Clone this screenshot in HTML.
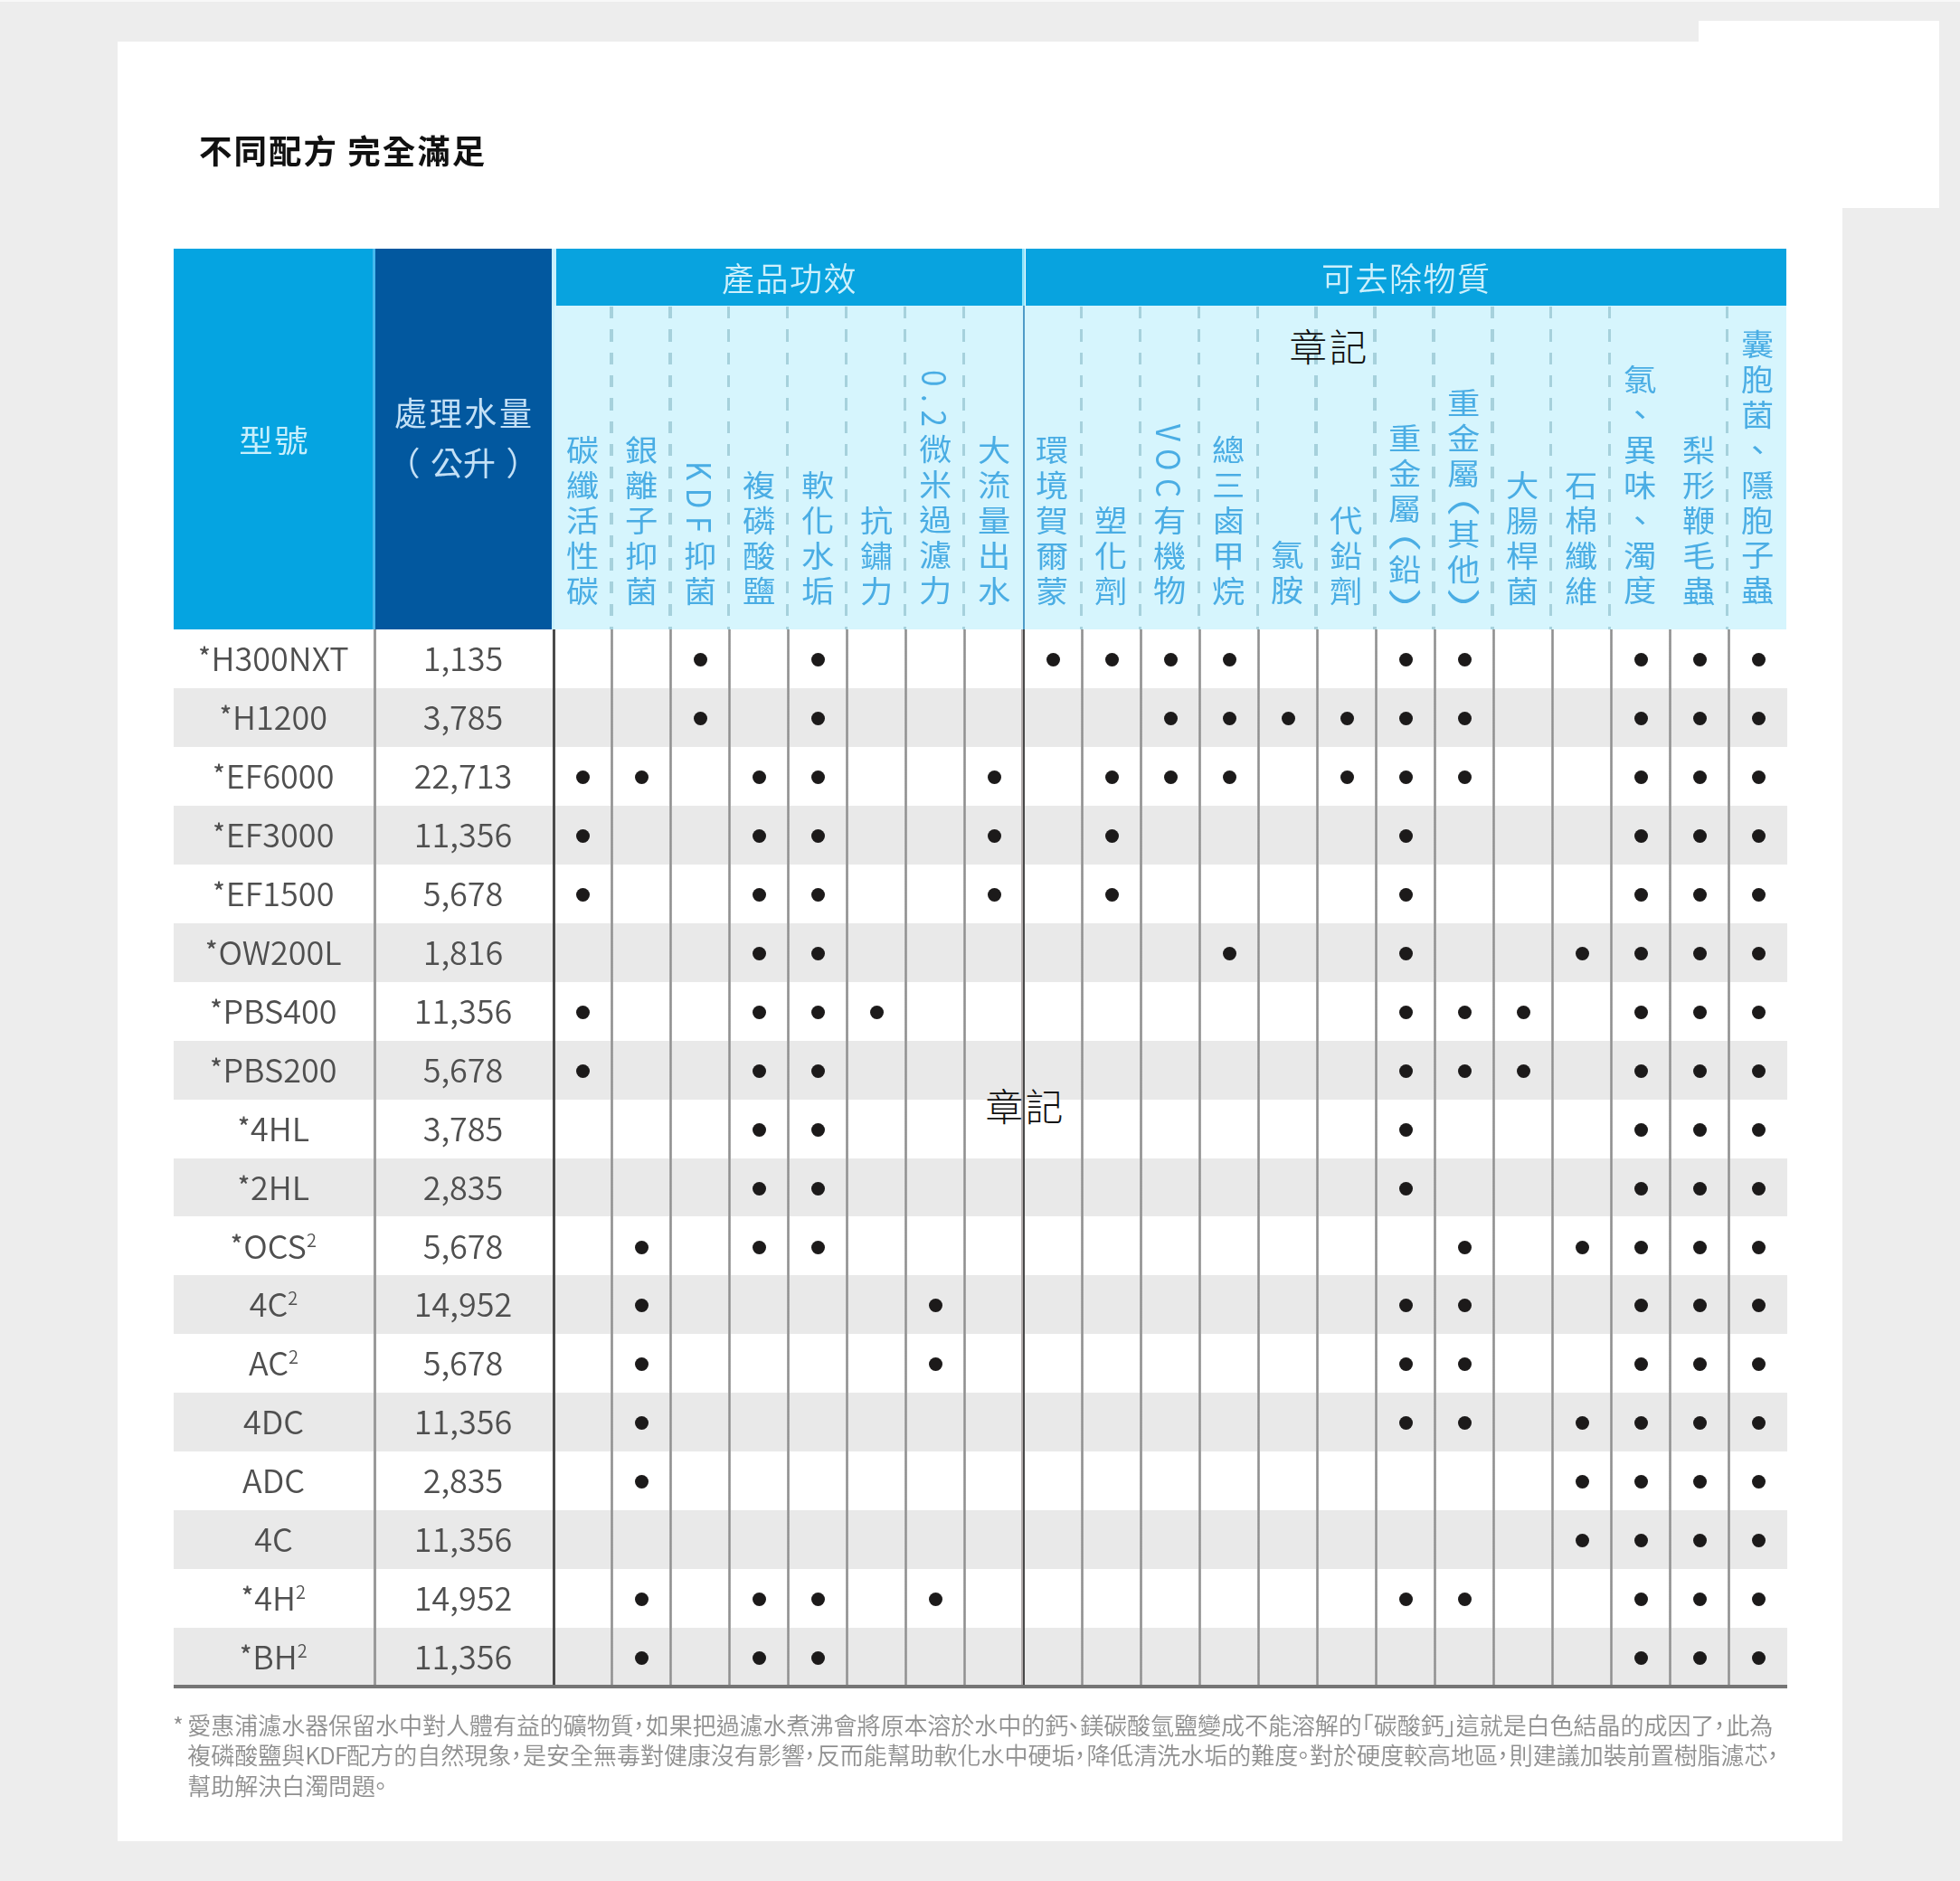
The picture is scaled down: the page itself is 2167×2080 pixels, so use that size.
<!DOCTYPE html><html lang="zh-Hant"><head><meta charset="utf-8"><title>不同配方 完全滿足</title><style>
*{margin:0;padding:0;box-sizing:border-box}
html,body{width:2167px;height:2080px;overflow:hidden}
body{background:#ededed;font-family:"Liberation Sans","Noto Sans CJK TC",sans-serif;position:relative}
.abs,.abs>*{position:absolute}
#topstrip{position:absolute;left:0;top:0;width:2167px;height:2px;background:#f8f8f8}
#soft{position:absolute;left:0;top:0;width:2167px;height:2080px;filter:blur(0.7px)}
#card{position:absolute;left:130px;top:46px;width:1907.3px;height:1990px;background:#fff}
#corner{position:absolute;left:1878px;top:23px;width:266px;height:207px;background:#fff}
#title{position:absolute;left:220px;top:138px;font:700 36.5px/56px "Noto Sans CJK TC","Liberation Sans",sans-serif;color:#111;white-space:nowrap;letter-spacing:2px}
.cjk{font-family:"Noto Sans CJK TC","Liberation Sans",sans-serif}
#h1{position:absolute;left:192px;top:275px;width:221px;height:421px;background:#05a4e1}
#h2{position:absolute;left:415px;top:275px;width:195px;height:421px;background:#02589f}
#hs1{position:absolute;left:411.5px;top:275px;width:3.5px;height:421px;background:#45b9ee}
#hs2{position:absolute;left:610px;top:275px;width:5px;height:421px;background:#c9f0fc}
#hl{position:absolute;left:613px;top:338px;width:1362.3px;height:358px;background:#d6f5fd}
.band{position:absolute;top:275px;height:63px;background:#08a3df;color:#cdf0fc;font:350 36px/63px "Noto Sans CJK TC",sans-serif;text-align:center;letter-spacing:1.5px}
.ht{position:absolute;color:#c6effc;font:400 36px/55px "Noto Sans CJK TC",sans-serif;text-align:center;white-space:nowrap}
.ht .p1{margin-right:11.5px}.ht .p2{margin-left:11.5px}
.vh{position:absolute;bottom:0;writing-mode:vertical-rl;text-orientation:mixed;font:400 33px/65px "Noto Sans CJK TC",sans-serif;color:#4aade4;letter-spacing:5.9px;transform:scaleX(1.1);white-space:nowrap;width:65px;text-align:right}
.vh .lat{letter-spacing:8.5px}
.vh .pa{display:inline-block;margin-top:-0.32em;transform:scaleY(1.6);transform-origin:50% 69%}
.vh .pb{display:inline-block;margin-bottom:calc(-0.5em - 3px);margin-top:0.12em;transform:scaleY(1.7);transform-origin:50% 23%}
.dash{position:absolute;top:339px;width:3.4px;height:357px;background:repeating-linear-gradient(to bottom,#a6d1dc 0,#a6d1dc 13.3px,transparent 13.3px,transparent 25.3px)}
.row{position:absolute;left:192px;width:1783.8px}
.row.g{background:#e9e9e9}
.m,.n{position:absolute;top:-2px;height:100%;text-align:center;font:350 36px/65px "Noto Sans CJK TC",sans-serif;color:#4f4f4f;white-space:nowrap}
.m{left:0;width:221px}
.n{left:221px;width:198px}
.m sup{font-size:20px;line-height:0;vertical-align:13px}
.m .as{font-size:27px;font-weight:500;vertical-align:6px;line-height:0;margin-right:1px}
.d{position:absolute;width:15px;height:15px;border-radius:50%;background:#1c1a1a}
.vl{position:absolute;top:696.3px;width:3px;background:linear-gradient(to right,#bcbcbc,#909090 34%,#909090 66%,#bcbcbc)}
.foot{position:absolute;font:350 26px/38px "Noto Sans CJK TC",sans-serif;color:#8f8f8f;white-space:nowrap;letter-spacing:-0.03px}
.foot .pc{margin:0 -5.5px 0 -7.5px}.foot .la{letter-spacing:-0.8px}.foot .pl{margin-left:-13px}.foot .pr{margin-right:-13px}
.stamp{position:absolute;letter-spacing:2.6px;font:300 41.6px/48px "Noto Sans CJK TC",sans-serif;color:#111;white-space:nowrap}
</style></head><body>
<div id="topstrip"></div><div id="soft"><div id="card"></div><div id="corner"></div>
<div id="title">不同配方 完全滿足</div>
<div id="h1"></div><div id="hs1"></div><div id="h2"></div><div id="hs2"></div><div id="hl"></div>
<div class="band" style="left:615px;width:516px">產品功效</div>
<div class="band" style="left:1134px;width:841.3px">可去除物質</div>
<div style="position:absolute;left:1130px;top:275px;width:3px;height:63px;background:#8fe3fa"></div>
<div style="position:absolute;left:1130.6px;top:338px;width:2px;height:358px;background:#4f9bc8"></div>
<div class="ht" style="left:192px;width:221px;top:457.8px;font-size:34px;letter-spacing:1.5px;text-indent:1.5px;transform:scaleX(1.1)">型號</div>
<div class="ht" style="left:415px;width:194px;top:427.5px;color:#c3e0f6"><span style="letter-spacing:2.7px;margin-left:2.7px">處理水量</span><br><span class="p1">（</span>公升<span class="p2">）</span></div>
<div class="vh" style="left:611.0px;top:338px;height:337.3px">碳纖活性碳</div>
<div class="vh" style="left:675.9px;top:338px;height:337.3px">銀離子抑菌</div>
<div class="vh" style="left:740.9px;top:338px;height:337.3px"><span class="lat">KDF</span>抑菌</div>
<div class="vh" style="left:805.8px;top:338px;height:337.3px">複磷酸鹽</div>
<div class="vh" style="left:870.7px;top:338px;height:337.3px">軟化水垢</div>
<div class="vh" style="left:935.7px;top:338px;height:337.3px">抗鏽力</div>
<div class="vh" style="left:1000.6px;top:338px;height:337.3px"><span class="lat">0.2</span>微米過濾力</div>
<div class="vh" style="left:1065.5px;top:338px;height:337.3px">大流量出水</div>
<div class="vh" style="left:1130.4px;top:338px;height:337.3px">環境賀爾蒙</div>
<div class="vh" style="left:1195.4px;top:338px;height:337.3px">塑化劑</div>
<div class="vh" style="left:1260.3px;top:338px;height:337.3px"><span class="lat">VOC</span>有機物</div>
<div class="vh" style="left:1325.2px;top:338px;height:337.3px">總三鹵甲烷</div>
<div class="vh" style="left:1390.2px;top:338px;height:337.3px">氯胺</div>
<div class="vh" style="left:1455.1px;top:338px;height:337.3px">代鉛劑</div>
<div class="vh" style="left:1520.0px;top:338px;height:337.3px">重金屬<span class="pa">（</span>鉛<span class="pb">）</span></div>
<div class="vh" style="left:1585.0px;top:338px;height:337.3px">重金屬<span class="pa">（</span>其他<span class="pb">）</span></div>
<div class="vh" style="left:1649.9px;top:338px;height:337.3px">大腸桿菌</div>
<div class="vh" style="left:1714.8px;top:338px;height:337.3px">石棉纖維</div>
<div class="vh" style="left:1779.7px;top:338px;height:337.3px">氯、異味、濁度</div>
<div class="vh" style="left:1844.7px;top:338px;height:337.3px">梨形鞭毛蟲</div>
<div class="vh" style="left:1909.6px;top:338px;height:337.3px">囊胞菌、隱胞子蟲</div>
<div class="dash" style="left:674.2px"></div>
<div class="dash" style="left:739.2px"></div>
<div class="dash" style="left:804.1px"></div>
<div class="dash" style="left:869.0px"></div>
<div class="dash" style="left:934.0px"></div>
<div class="dash" style="left:998.9px"></div>
<div class="dash" style="left:1063.8px"></div>
<div class="dash" style="left:1193.7px"></div>
<div class="dash" style="left:1258.6px"></div>
<div class="dash" style="left:1323.5px"></div>
<div class="dash" style="left:1388.5px"></div>
<div class="dash" style="left:1453.4px"></div>
<div class="dash" style="left:1518.3px"></div>
<div class="dash" style="left:1583.2px"></div>
<div class="dash" style="left:1648.2px"></div>
<div class="dash" style="left:1713.1px"></div>
<div class="dash" style="left:1778.0px"></div>
<div class="dash" style="left:1907.9px"></div>
<div class="row" style="top:696.30px;height:64.92px"><div class="m"><span class="as">*</span>H300NXT</div><div class="n">1,135</div>
<i class="d" style="left:575.0px;top:26.0px"></i>
<i class="d" style="left:705.0px;top:26.0px"></i>
<i class="d" style="left:965.0px;top:26.0px"></i>
<i class="d" style="left:1030.0px;top:26.0px"></i>
<i class="d" style="left:1095.0px;top:26.0px"></i>
<i class="d" style="left:1160.0px;top:26.0px"></i>
<i class="d" style="left:1355.0px;top:26.0px"></i>
<i class="d" style="left:1420.0px;top:26.0px"></i>
<i class="d" style="left:1615.0px;top:26.0px"></i>
<i class="d" style="left:1680.0px;top:26.0px"></i>
<i class="d" style="left:1745.0px;top:26.0px"></i>
</div>
<div class="row g" style="top:761.22px;height:64.92px"><div class="m"><span class="as">*</span>H1200</div><div class="n">3,785</div>
<i class="d" style="left:575.0px;top:26.0px"></i>
<i class="d" style="left:705.0px;top:26.0px"></i>
<i class="d" style="left:1095.0px;top:26.0px"></i>
<i class="d" style="left:1160.0px;top:26.0px"></i>
<i class="d" style="left:1225.0px;top:26.0px"></i>
<i class="d" style="left:1290.0px;top:26.0px"></i>
<i class="d" style="left:1355.0px;top:26.0px"></i>
<i class="d" style="left:1420.0px;top:26.0px"></i>
<i class="d" style="left:1615.0px;top:26.0px"></i>
<i class="d" style="left:1680.0px;top:26.0px"></i>
<i class="d" style="left:1745.0px;top:26.0px"></i>
</div>
<div class="row" style="top:826.14px;height:64.92px"><div class="m"><span class="as">*</span>EF6000</div><div class="n">22,713</div>
<i class="d" style="left:445.0px;top:26.0px"></i>
<i class="d" style="left:510.0px;top:26.0px"></i>
<i class="d" style="left:640.0px;top:26.0px"></i>
<i class="d" style="left:705.0px;top:26.0px"></i>
<i class="d" style="left:900.0px;top:26.0px"></i>
<i class="d" style="left:1030.0px;top:26.0px"></i>
<i class="d" style="left:1095.0px;top:26.0px"></i>
<i class="d" style="left:1160.0px;top:26.0px"></i>
<i class="d" style="left:1290.0px;top:26.0px"></i>
<i class="d" style="left:1355.0px;top:26.0px"></i>
<i class="d" style="left:1420.0px;top:26.0px"></i>
<i class="d" style="left:1615.0px;top:26.0px"></i>
<i class="d" style="left:1680.0px;top:26.0px"></i>
<i class="d" style="left:1745.0px;top:26.0px"></i>
</div>
<div class="row g" style="top:891.06px;height:64.92px"><div class="m"><span class="as">*</span>EF3000</div><div class="n">11,356</div>
<i class="d" style="left:445.0px;top:26.0px"></i>
<i class="d" style="left:640.0px;top:26.0px"></i>
<i class="d" style="left:705.0px;top:26.0px"></i>
<i class="d" style="left:900.0px;top:26.0px"></i>
<i class="d" style="left:1030.0px;top:26.0px"></i>
<i class="d" style="left:1355.0px;top:26.0px"></i>
<i class="d" style="left:1615.0px;top:26.0px"></i>
<i class="d" style="left:1680.0px;top:26.0px"></i>
<i class="d" style="left:1745.0px;top:26.0px"></i>
</div>
<div class="row" style="top:955.98px;height:64.92px"><div class="m"><span class="as">*</span>EF1500</div><div class="n">5,678</div>
<i class="d" style="left:445.0px;top:26.0px"></i>
<i class="d" style="left:640.0px;top:26.0px"></i>
<i class="d" style="left:705.0px;top:26.0px"></i>
<i class="d" style="left:900.0px;top:26.0px"></i>
<i class="d" style="left:1030.0px;top:26.0px"></i>
<i class="d" style="left:1355.0px;top:26.0px"></i>
<i class="d" style="left:1615.0px;top:26.0px"></i>
<i class="d" style="left:1680.0px;top:26.0px"></i>
<i class="d" style="left:1745.0px;top:26.0px"></i>
</div>
<div class="row g" style="top:1020.90px;height:64.92px"><div class="m"><span class="as">*</span>OW200L</div><div class="n">1,816</div>
<i class="d" style="left:640.0px;top:26.0px"></i>
<i class="d" style="left:705.0px;top:26.0px"></i>
<i class="d" style="left:1160.0px;top:26.0px"></i>
<i class="d" style="left:1355.0px;top:26.0px"></i>
<i class="d" style="left:1550.0px;top:26.0px"></i>
<i class="d" style="left:1615.0px;top:26.0px"></i>
<i class="d" style="left:1680.0px;top:26.0px"></i>
<i class="d" style="left:1745.0px;top:26.0px"></i>
</div>
<div class="row" style="top:1085.82px;height:64.92px"><div class="m"><span class="as">*</span>PBS400</div><div class="n">11,356</div>
<i class="d" style="left:445.0px;top:26.0px"></i>
<i class="d" style="left:640.0px;top:26.0px"></i>
<i class="d" style="left:705.0px;top:26.0px"></i>
<i class="d" style="left:770.0px;top:26.0px"></i>
<i class="d" style="left:1355.0px;top:26.0px"></i>
<i class="d" style="left:1420.0px;top:26.0px"></i>
<i class="d" style="left:1485.0px;top:26.0px"></i>
<i class="d" style="left:1615.0px;top:26.0px"></i>
<i class="d" style="left:1680.0px;top:26.0px"></i>
<i class="d" style="left:1745.0px;top:26.0px"></i>
</div>
<div class="row g" style="top:1150.74px;height:64.92px"><div class="m"><span class="as">*</span>PBS200</div><div class="n">5,678</div>
<i class="d" style="left:445.0px;top:26.0px"></i>
<i class="d" style="left:640.0px;top:26.0px"></i>
<i class="d" style="left:705.0px;top:26.0px"></i>
<i class="d" style="left:1355.0px;top:26.0px"></i>
<i class="d" style="left:1420.0px;top:26.0px"></i>
<i class="d" style="left:1485.0px;top:26.0px"></i>
<i class="d" style="left:1615.0px;top:26.0px"></i>
<i class="d" style="left:1680.0px;top:26.0px"></i>
<i class="d" style="left:1745.0px;top:26.0px"></i>
</div>
<div class="row" style="top:1215.66px;height:64.92px"><div class="m"><span class="as">*</span>4HL</div><div class="n">3,785</div>
<i class="d" style="left:640.0px;top:26.0px"></i>
<i class="d" style="left:705.0px;top:26.0px"></i>
<i class="d" style="left:1355.0px;top:26.0px"></i>
<i class="d" style="left:1615.0px;top:26.0px"></i>
<i class="d" style="left:1680.0px;top:26.0px"></i>
<i class="d" style="left:1745.0px;top:26.0px"></i>
</div>
<div class="row g" style="top:1280.58px;height:64.92px"><div class="m"><span class="as">*</span>2HL</div><div class="n">2,835</div>
<i class="d" style="left:640.0px;top:26.0px"></i>
<i class="d" style="left:705.0px;top:26.0px"></i>
<i class="d" style="left:1355.0px;top:26.0px"></i>
<i class="d" style="left:1615.0px;top:26.0px"></i>
<i class="d" style="left:1680.0px;top:26.0px"></i>
<i class="d" style="left:1745.0px;top:26.0px"></i>
</div>
<div class="row" style="top:1345.50px;height:64.92px"><div class="m"><span class="as">*</span>OCS<sup>2</sup></div><div class="n">5,678</div>
<i class="d" style="left:510.0px;top:26.0px"></i>
<i class="d" style="left:640.0px;top:26.0px"></i>
<i class="d" style="left:705.0px;top:26.0px"></i>
<i class="d" style="left:1420.0px;top:26.0px"></i>
<i class="d" style="left:1550.0px;top:26.0px"></i>
<i class="d" style="left:1615.0px;top:26.0px"></i>
<i class="d" style="left:1680.0px;top:26.0px"></i>
<i class="d" style="left:1745.0px;top:26.0px"></i>
</div>
<div class="row g" style="top:1410.42px;height:64.92px"><div class="m">4C<sup>2</sup></div><div class="n">14,952</div>
<i class="d" style="left:510.0px;top:26.0px"></i>
<i class="d" style="left:835.0px;top:26.0px"></i>
<i class="d" style="left:1355.0px;top:26.0px"></i>
<i class="d" style="left:1420.0px;top:26.0px"></i>
<i class="d" style="left:1615.0px;top:26.0px"></i>
<i class="d" style="left:1680.0px;top:26.0px"></i>
<i class="d" style="left:1745.0px;top:26.0px"></i>
</div>
<div class="row" style="top:1475.34px;height:64.92px"><div class="m">AC<sup>2</sup></div><div class="n">5,678</div>
<i class="d" style="left:510.0px;top:26.0px"></i>
<i class="d" style="left:835.0px;top:26.0px"></i>
<i class="d" style="left:1355.0px;top:26.0px"></i>
<i class="d" style="left:1420.0px;top:26.0px"></i>
<i class="d" style="left:1615.0px;top:26.0px"></i>
<i class="d" style="left:1680.0px;top:26.0px"></i>
<i class="d" style="left:1745.0px;top:26.0px"></i>
</div>
<div class="row g" style="top:1540.26px;height:64.92px"><div class="m">4DC</div><div class="n">11,356</div>
<i class="d" style="left:510.0px;top:26.0px"></i>
<i class="d" style="left:1355.0px;top:26.0px"></i>
<i class="d" style="left:1420.0px;top:26.0px"></i>
<i class="d" style="left:1550.0px;top:26.0px"></i>
<i class="d" style="left:1615.0px;top:26.0px"></i>
<i class="d" style="left:1680.0px;top:26.0px"></i>
<i class="d" style="left:1745.0px;top:26.0px"></i>
</div>
<div class="row" style="top:1605.18px;height:64.92px"><div class="m">ADC</div><div class="n">2,835</div>
<i class="d" style="left:510.0px;top:26.0px"></i>
<i class="d" style="left:1550.0px;top:26.0px"></i>
<i class="d" style="left:1615.0px;top:26.0px"></i>
<i class="d" style="left:1680.0px;top:26.0px"></i>
<i class="d" style="left:1745.0px;top:26.0px"></i>
</div>
<div class="row g" style="top:1670.10px;height:64.92px"><div class="m">4C</div><div class="n">11,356</div>
<i class="d" style="left:1550.0px;top:26.0px"></i>
<i class="d" style="left:1615.0px;top:26.0px"></i>
<i class="d" style="left:1680.0px;top:26.0px"></i>
<i class="d" style="left:1745.0px;top:26.0px"></i>
</div>
<div class="row" style="top:1735.02px;height:64.92px"><div class="m"><span class="as">*</span>4H<sup>2</sup></div><div class="n">14,952</div>
<i class="d" style="left:510.0px;top:26.0px"></i>
<i class="d" style="left:640.0px;top:26.0px"></i>
<i class="d" style="left:705.0px;top:26.0px"></i>
<i class="d" style="left:835.0px;top:26.0px"></i>
<i class="d" style="left:1355.0px;top:26.0px"></i>
<i class="d" style="left:1420.0px;top:26.0px"></i>
<i class="d" style="left:1615.0px;top:26.0px"></i>
<i class="d" style="left:1680.0px;top:26.0px"></i>
<i class="d" style="left:1745.0px;top:26.0px"></i>
</div>
<div class="row g" style="top:1799.94px;height:64.92px"><div class="m"><span class="as">*</span>BH<sup>2</sup></div><div class="n">11,356</div>
<i class="d" style="left:510.0px;top:26.0px"></i>
<i class="d" style="left:640.0px;top:26.0px"></i>
<i class="d" style="left:705.0px;top:26.0px"></i>
<i class="d" style="left:1615.0px;top:26.0px"></i>
<i class="d" style="left:1680.0px;top:26.0px"></i>
<i class="d" style="left:1745.0px;top:26.0px"></i>
</div>
<div class="vl" style="left:413px;height:1168.6px;background:#9a9a9a"></div>
<div class="vl" style="left:610.5px;width:3px;height:1168.6px;background:#4a4a4a"></div>
<div class="vl" style="left:675.3px;height:1168.6px"></div>
<div class="vl" style="left:740.3px;height:1168.6px"></div>
<div class="vl" style="left:805.3px;height:1168.6px"></div>
<div class="vl" style="left:870.3px;height:1168.6px"></div>
<div class="vl" style="left:935.3px;height:1168.6px"></div>
<div class="vl" style="left:1000.3px;height:1168.6px"></div>
<div class="vl" style="left:1065.3px;height:1168.6px"></div>
<div class="vl" style="left:1129.0px;width:4px;height:1168.6px;background:linear-gradient(to right,#b4aeae 0,#b4aeae 45%,#484848 45%)"></div>
<div class="vl" style="left:1195.3px;height:1168.6px"></div>
<div class="vl" style="left:1260.3px;height:1168.6px"></div>
<div class="vl" style="left:1325.3px;height:1168.6px"></div>
<div class="vl" style="left:1390.3px;height:1168.6px"></div>
<div class="vl" style="left:1455.3px;height:1168.6px"></div>
<div class="vl" style="left:1520.3px;height:1168.6px"></div>
<div class="vl" style="left:1585.3px;height:1168.6px"></div>
<div class="vl" style="left:1650.3px;height:1168.6px"></div>
<div class="vl" style="left:1715.3px;height:1168.6px"></div>
<div class="vl" style="left:1780.3px;height:1168.6px"></div>
<div class="vl" style="left:1845.3px;height:1168.6px"></div>
<div class="vl" style="left:1910.3px;height:1168.6px"></div>
<div style="position:absolute;left:192px;top:1863.1px;width:1784px;height:3.6px;background:#757575"></div>
<div class="foot" style="left:191px;top:1888.5px">*</div>
<div class="foot" style="left:207.3px;top:1887.5px">愛惠浦濾水器保留水中對人體有益的礦物質<span class="pc">，</span>如果把過濾水煮沸會將原本溶於水中的鈣<span class="pc">、</span>鎂碳酸氫鹽變成不能溶解的<span class="pl">「</span>碳酸鈣<span class="pr">」</span>這就是白色結晶的成因了<span class="pc">，</span>此為</div>
<div class="foot" style="left:207.3px;top:1921.2px">複磷酸鹽與<span class="la">KDF</span>配方的自然現象<span class="pc">，</span>是安全無毒對健康沒有影響<span class="pc">，</span>反而能幫助軟化水中硬垢<span class="pc">，</span>降低清洗水垢的難度<span class="pc">。</span>對於硬度較高地區<span class="pc">，</span>則建議加裝前置樹脂濾芯<span class="pc">，</span></div>
<div class="foot" style="left:207.3px;top:1954.9px">幫助解決白濁問題<span class="pc">。</span></div>
</div>
<div class="stamp" style="left:1425.5px;top:357.5px">章記</div>
<div class="stamp" style="left:1089.5px;top:1197.5px">章記</div>
</body></html>
